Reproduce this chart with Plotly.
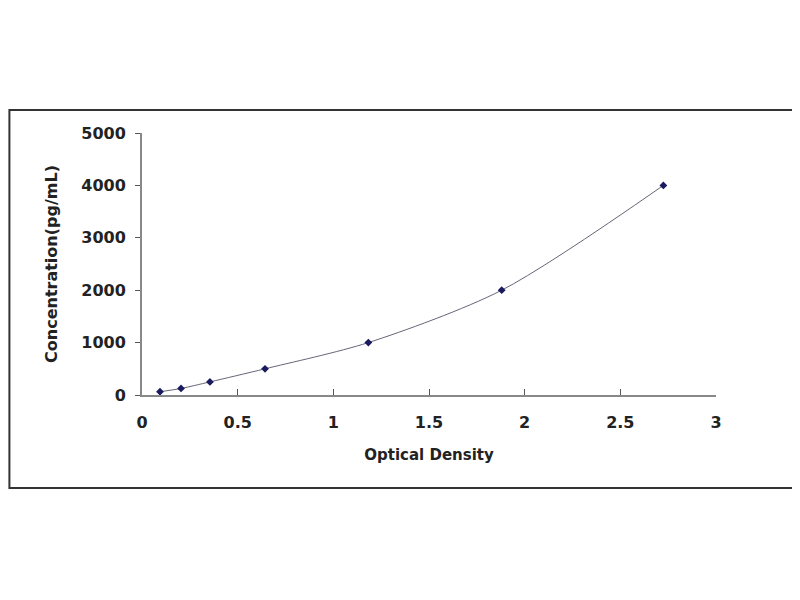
import plotly.graph_objects as go

optical_density = [0.094, 0.204, 0.355, 0.643, 1.183, 1.880, 2.725]
concentration = [62.5, 125, 250, 500, 1000, 2000, 4000]

x_ticks = [0, 0.5, 1, 1.5, 2, 2.5, 3]
y_ticks = [0, 1000, 2000, 3000, 4000, 5000]

font_main = dict(family="DejaVu Sans", size=15, color="#222222")

curve = go.Scatter(x=optical_density,
                   y=concentration,
                   mode='lines+markers',
                   line=dict(shape='spline', smoothing=0.8, width=1, color='#666677'),
                   marker=dict(symbol='diamond', size=6, color='#1a1a5e'),
                   showlegend=False)

# the page body has an 8px margin, so the figure is a bit smaller than 800x600
layout = go.Layout(width=792, height=592,
                   paper_bgcolor='white',
                   plot_bgcolor='white',
                   margin=dict(l=134, r=84, t=125, b=205),
                   font=font_main,
                   xaxis=dict(title=dict(text="<b>Optical Density</b>", standoff=18,
                                         font=dict(size=15)),
                              range=[0, 3],
                              tickvals=x_ticks,
                              ticktext=["<b>%g</b>" % v for v in x_ticks],
                              showgrid=False, zeroline=False,
                              showline=True, linecolor='#888888', linewidth=2,
                              ticks='inside', ticklen=6, tickcolor='#555555',
                              ticklabelstandoff=12,
                              tickfont=dict(size=16)),
                   yaxis=dict(title=dict(text="<b>Concentration(pg/mL)</b>", standoff=20,
                                         font=dict(size=16)),
                              range=[0, 5000],
                              tickvals=y_ticks,
                              ticktext=["<b>%d</b>" % v for v in y_ticks],
                              showgrid=False, zeroline=False,
                              showline=True, linecolor='#888888', linewidth=2,
                              ticks='outside', ticklen=5, tickcolor='#555555',
                              ticklabelstandoff=6,
                              tickfont=dict(size=16)),
                   shapes=[dict(type='rect', xref='paper', yref='paper',
                                x0=-0.231, x1=1.139, y0=-0.355, y1=1.088,
                                line=dict(color='#333333', width=2))])

fig = go.Figure(data=[curve], layout=layout)
fig.write_html("out.html")
